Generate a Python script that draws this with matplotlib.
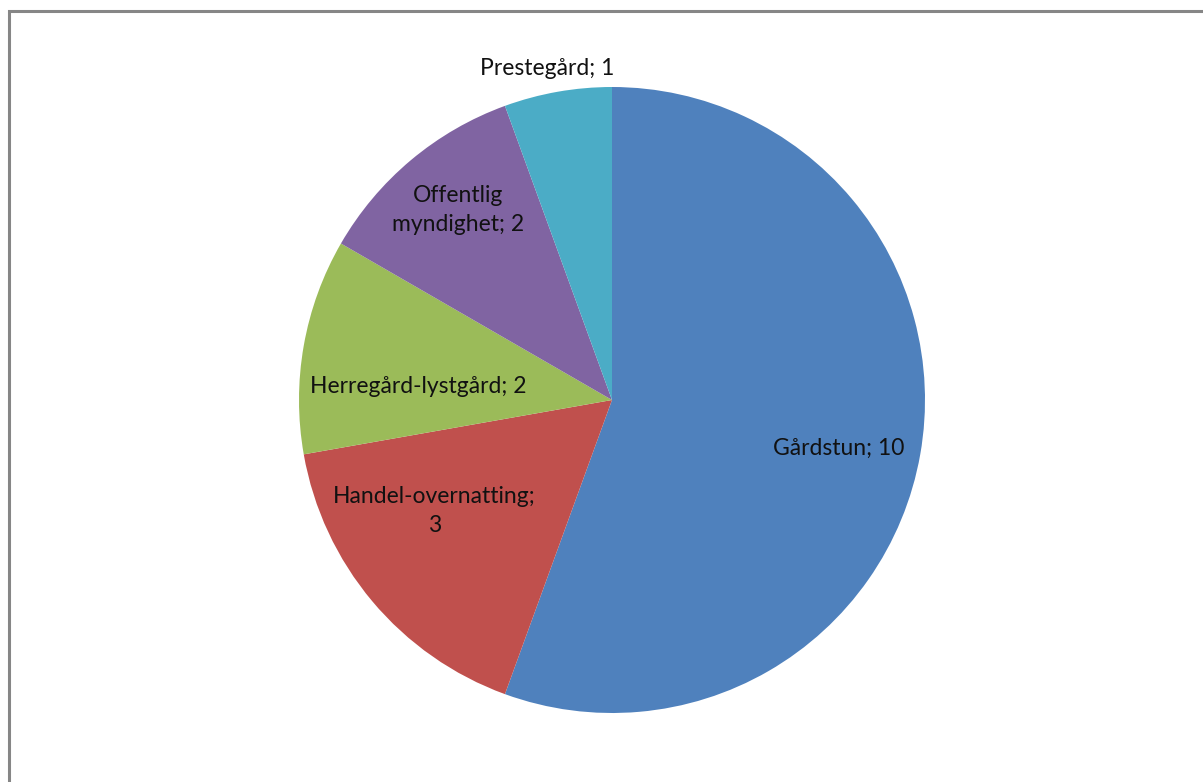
import matplotlib
matplotlib.use("Agg")
import matplotlib.pyplot as plt
import numpy as np
from matplotlib.patches import Rectangle

categories = ["Gårdstun", "Handel-overnatting", "Herregård-lystgård", "Offentlig myndighet", "Prestegård"]
values = [10, 3, 2, 2, 1]
label_text = ["Gårdstun; 10", "Handel-overnatting;\n3", "Herregård-lystgård; 2", "Offentlig\nmyndighet; 2", "Prestegård; 1"]
colors = ["#4F81BD", "#C0504D", "#9BBB59", "#8064A2", "#4BACC6"]

# label placement: radius fraction and angle tweak (deg)
label_r = [0.74, 0.67, 0.62, 0.78, 1.08]
label_da = [-2, -8, 6, -1, 1]

plt.rcParams["font.family"] = ["Lato", "DejaVu Sans"]

W, H = 1203, 782
fig = plt.figure(figsize=(W / 100, H / 100), dpi=100)
ax = fig.add_axes([0, 0, 1, 1])
ax.set_xlim(0, W)
ax.set_ylim(0, H)
ax.set_aspect("equal")
ax.axis("off")

cx, cy, R = 612, H - 400, 313
wedges, _ = ax.pie(values, colors=colors, startangle=90, counterclock=False,
                   center=(cx, cy), radius=R, frame=False,
                   wedgeprops=dict(linewidth=0))
ax.set_xlim(0, W)
ax.set_ylim(0, H)

for w, txt, rf, da in zip(wedges, label_text, label_r, label_da):
    mid = np.deg2rad((w.theta1 + w.theta2) / 2 + da)
    x = cx + rf * R * np.cos(mid)
    y = cy + rf * R * np.sin(mid)
    ax.text(x, y, txt, ha="center", va="center", fontsize=16.5, color="#111111",
            linespacing=1.45)

# chart area border (cut off at right and bottom)
fig.patches.append(Rectangle((8.5 / W, -0.05), 1.2, (H - 11) / H + 0.05,
                             transform=fig.transFigure, fill=False,
                             edgecolor="#868686", linewidth=2.2))

fig.savefig("out.png", dpi=100)
